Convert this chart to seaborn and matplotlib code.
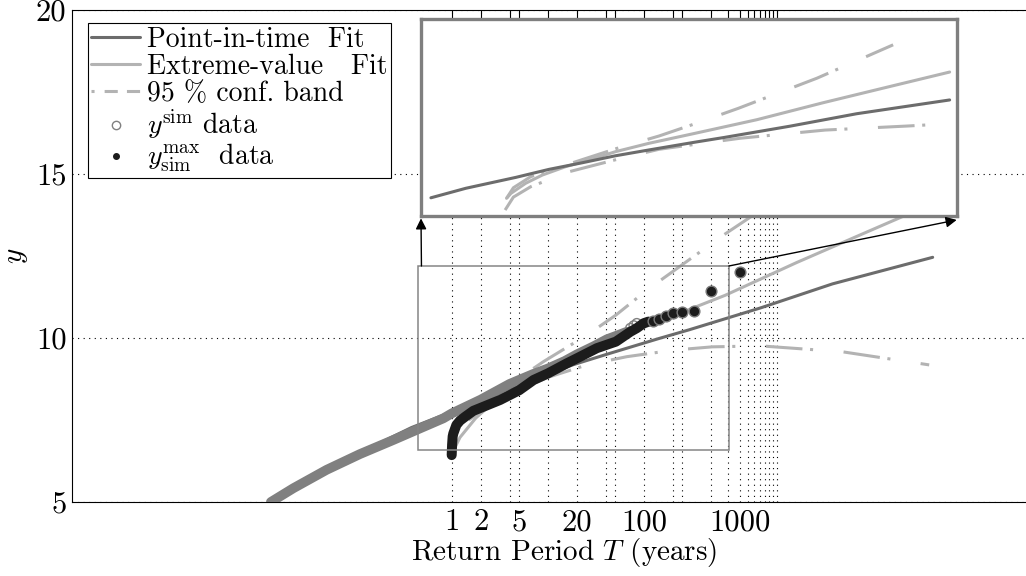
import numpy as np
import pandas as pd
import seaborn as sns
import matplotlib.pyplot as plt
from matplotlib.lines import Line2D
from matplotlib.patches import Rectangle
from matplotlib.ticker import FixedLocator, FixedFormatter, NullLocator

# --- values (T in years, y) ---
# point-in-time simulated data y^sim
sim_T = [0.0132, 0.0226, 0.05, 0.111, 0.247, 0.449, 0.818, 1.0, 2.0, 4.0, 7.0, 10, 15, 20, 30, 41, 55, 66]
sim_y = [5.0, 5.42, 5.98, 6.46, 6.89, 7.22, 7.55, 7.7, 8.12, 8.6, 8.9, 9.07, 9.3, 9.5, 9.75, 9.96, 10.1, 10.19]
sim_tail_T = [72, 78, 84]
sim_tail_y = [10.3, 10.38, 10.45]

# annual maxima y_sim^max
max_T = [1.0, 1.01, 1.024, 1.04, 1.12, 1.22, 1.38, 1.68, 2.0, 3.18, 5.05, 7.1, 10, 15.8, 20,
         32.3, 51, 72, 84, 99, 111]
max_y = [6.43, 6.75, 7.0, 7.09, 7.35, 7.48, 7.6, 7.78, 7.87, 8.11, 8.41, 8.72, 8.92, 9.23, 9.38,
         9.69, 9.89, 10.19, 10.3, 10.45, 10.5]
max_tail_T = [125, 143, 167, 200, 250, 334, 500, 1001]
max_tail_y = [10.53, 10.57, 10.68, 10.77, 10.79, 10.82, 11.44, 12.02]

# fitted curves
pit_T = [0.155, 0.382, 1.385, 3.25, 7.69, 18.1, 42.7, 141, 294, 1635, 9090, 1e5]
pit_y = [6.71, 7.27, 7.91, 8.38, 8.77, 9.18, 9.52, 9.98, 10.25, 10.92, 11.65, 12.46]
ev_T = [1.09, 1.22, 1.78, 2.75, 5.0, 9.1, 18.1, 42.7, 141, 694, 3850, 21400, 1e5]
ev_y = [6.68, 6.97, 7.56, 8.05, 8.54, 8.93, 9.42, 9.91, 10.5, 11.3, 12.3, 13.25, 14.1]

# 95 % band, main panel
up_T = [1.5, 2.13, 4.7, 9, 25.5, 51, 107, 670, 1e5]
up_y = [7.75, 8.11, 8.72, 9.28, 10.09, 10.70, 11.46, 13.14, 17.4]
lo_T = [1.5, 4.0, 10, 25.5, 66, 202, 510, 1625, 11500, 92000]
lo_y = [7.5, 8.3, 8.8, 9.18, 9.43, 9.63, 9.73, 9.76, 9.58, 9.18]

# 95 % band as drawn in the inset
in_up_T = [1.09, 1.3, 2.03, 5.45, 21.4, 55.5, 135, 431, 3270, 23300]
in_up_y = [6.68, 7.3, 7.95, 8.70, 9.71, 10.34, 11.03, 11.97, 13.74, 15.7]
in_lo_T = [1.05, 1.3, 2.03, 5.45, 20.9, 55.5, 124, 451, 4020, 34300, 88300]
in_lo_y = [5.99, 6.75, 7.36, 8.24, 9.03, 9.56, 9.81, 10.21, 10.69, 10.93, 11.05]

# zoom box (T range, y range)
box_T = [0.449, 761]
box_y = [6.585, 12.195]

tick_T = [1, 2, 4, 5, 10, 20, 40, 50, 100, 200, 250, 500, 750, 1000,
          1200, 1400, 1600, 1800, 2000, 2200, 2400]
tick_lbl = ["1", "2", "", "5", "", "20", "", "", "100", "", "", "", "", "1000",
            "", "", "", "", "", "", ""]

PIT_C = "#6c6c6c"
EV_C = "#b3b3b3"
SIM_C = "#808080"
MAX_C = "#1c1c1c"
BAND_DASH = (0, (12, 2.5, 1, 10))

sns.set_theme(style="white", rc={
    "text.color": "black", "axes.labelcolor": "black",
    "xtick.color": "black", "ytick.color": "black",
})
plt.rcParams["font.family"] = ["cmr10", "DejaVu Serif"]
plt.rcParams["mathtext.fontset"] = "cm"
plt.rcParams["axes.unicode_minus"] = False


def draw_fits(a, upT, upY, loT, loY):
    sns.lineplot(x=upT, y=upY, ax=a, sort=False, estimator=None, color=EV_C,
                 lw=2.2, linestyle=BAND_DASH, zorder=2)
    sns.lineplot(x=loT, y=loY, ax=a, sort=False, estimator=None, color=EV_C,
                 lw=2.2, linestyle=BAND_DASH, zorder=2)
    sns.lineplot(x=ev_T, y=ev_y, ax=a, sort=False, estimator=None, color=EV_C,
                 lw=2.2, zorder=2)
    sns.lineplot(x=pit_T, y=pit_y, ax=a, sort=False, estimator=None, color=PIT_C,
                 lw=2.2, zorder=2)


fig = plt.figure(figsize=(10.26, 5.76), dpi=100)
ax = fig.add_axes([72 / 1026, 1 - 502 / 576, (1056 - 72) / 1026, 492 / 576])
ax.set_xscale("log")
ax.set_xlim(1.13e-4, 1.914e6)
ax.set_ylim(5, 20)

draw_fits(ax, up_T, up_y, lo_T, lo_y)

# dense simulated data drawn as a thick trace, sparse tail as open circles
sns.lineplot(x=sim_T, y=sim_y, ax=ax, sort=False, estimator=None, color=SIM_C,
             lw=7, solid_capstyle="round", zorder=3)
sns.scatterplot(x=sim_tail_T, y=sim_tail_y, ax=ax, color=SIM_C, s=45,
                linewidth=1, zorder=3)
ax.collections[-1].set_facecolor("none")
ax.collections[-1].set_edgecolor(SIM_C)

sns.lineplot(x=max_T, y=max_y, ax=ax, sort=False, estimator=None, color=MAX_C,
             lw=7.2, solid_capstyle="round", solid_joinstyle="round", zorder=4)
sns.scatterplot(x=max_tail_T, y=max_tail_y, ax=ax, color=MAX_C, s=60,
                edgecolor="#7a7a7a", linewidth=1, zorder=4)

ax.add_patch(Rectangle((box_T[0], box_y[0]), box_T[1] - box_T[0], box_y[1] - box_y[0],
                       fill=False, edgecolor="#858585", lw=1.1, zorder=5))

# axes styling
ax.xaxis.set_major_locator(FixedLocator(tick_T))
ax.xaxis.set_major_formatter(FixedFormatter(tick_lbl))
ax.xaxis.set_minor_locator(NullLocator())
ax.set_yticks([5, 10, 15, 20])
ax.tick_params(direction="in", length=6, width=0.8, top=True, right=True,
               labelsize=22, pad=5)
ax.tick_params(axis="y", pad=4)
ax.grid(True, ls=(0, (1, 4)), lw=0.8, color="black")
for s in ax.spines.values():
    s.set_color("black")
    s.set_linewidth(0.8)
ax.set_xlabel("Return Period $T$ (years)", fontsize=21, labelpad=0)
ax.set_ylabel("$y$", fontsize=21, labelpad=4)

handles = [
    Line2D([], [], color=PIT_C, lw=2.2),
    Line2D([], [], color=EV_C, lw=2.2),
    Line2D([], [], color=EV_C, lw=2.2, linestyle=(0, (1, 3.3, 4.3, 3, 4.3, 3))),
    Line2D([], [], ls="none", marker="o", mfc="none", mec=SIM_C, ms=6, mew=1),
    Line2D([], [], ls="none", marker="o", mfc=MAX_C, mec=MAX_C, ms=4),
]
labels = ["Point-in-time  Fit", "Extreme-value   Fit", "95 % conf. band",
          "$y^{\\rm sim}$ data", "$y_{\\rm sim}^{\\rm max}$  data"]
leg = ax.legend(handles, labels, loc="upper left", bbox_to_anchor=(88 / 1026, 1 - 23 / 576),
                bbox_transform=fig.transFigure, borderaxespad=0, fontsize=20,
                handlelength=1.75, handletextpad=0.25, borderpad=0.12, labelspacing=0.03,
                fancybox=False, framealpha=1, edgecolor="black")
leg.get_frame().set_linewidth(0.8)

# inset with the fitted curves
axins = fig.add_axes([421 / 1026, 1 - 216 / 576, (956.7 - 421) / 1026, (216 - 19.3) / 576])
axins.set_xscale("log")
draw_fits(axins, in_up_T, in_up_y, in_lo_T, in_lo_y)
axins.set_xlim(0.12, 1.2e5)
axins.set_ylim(5.64, 17.2)
axins.set_xticks([])
axins.set_yticks([])
axins.xaxis.set_minor_locator(NullLocator())
axins.set_xlabel("")
axins.set_ylabel("")
axins.set_facecolor("white")
for s in axins.spines.values():
    s.set_color("#7f7f7f")
    s.set_linewidth(2.4)

arrow = dict(arrowstyle="-|>", color="black", lw=1, mutation_scale=16, shrinkA=0, shrinkB=0)
axins.annotate("", xy=(0.0, -0.012), xycoords=axins.transAxes,
               xytext=(box_T[0] * 1.08, box_y[1]), textcoords=ax.transData,
               arrowprops=arrow, annotation_clip=False)
axins.annotate("", xy=(1.0, -0.02), xycoords=axins.transAxes,
               xytext=(box_T[1], box_y[1]), textcoords=ax.transData,
               arrowprops=arrow, annotation_clip=False)

fig.savefig("out.png", dpi=100, facecolor="white")
